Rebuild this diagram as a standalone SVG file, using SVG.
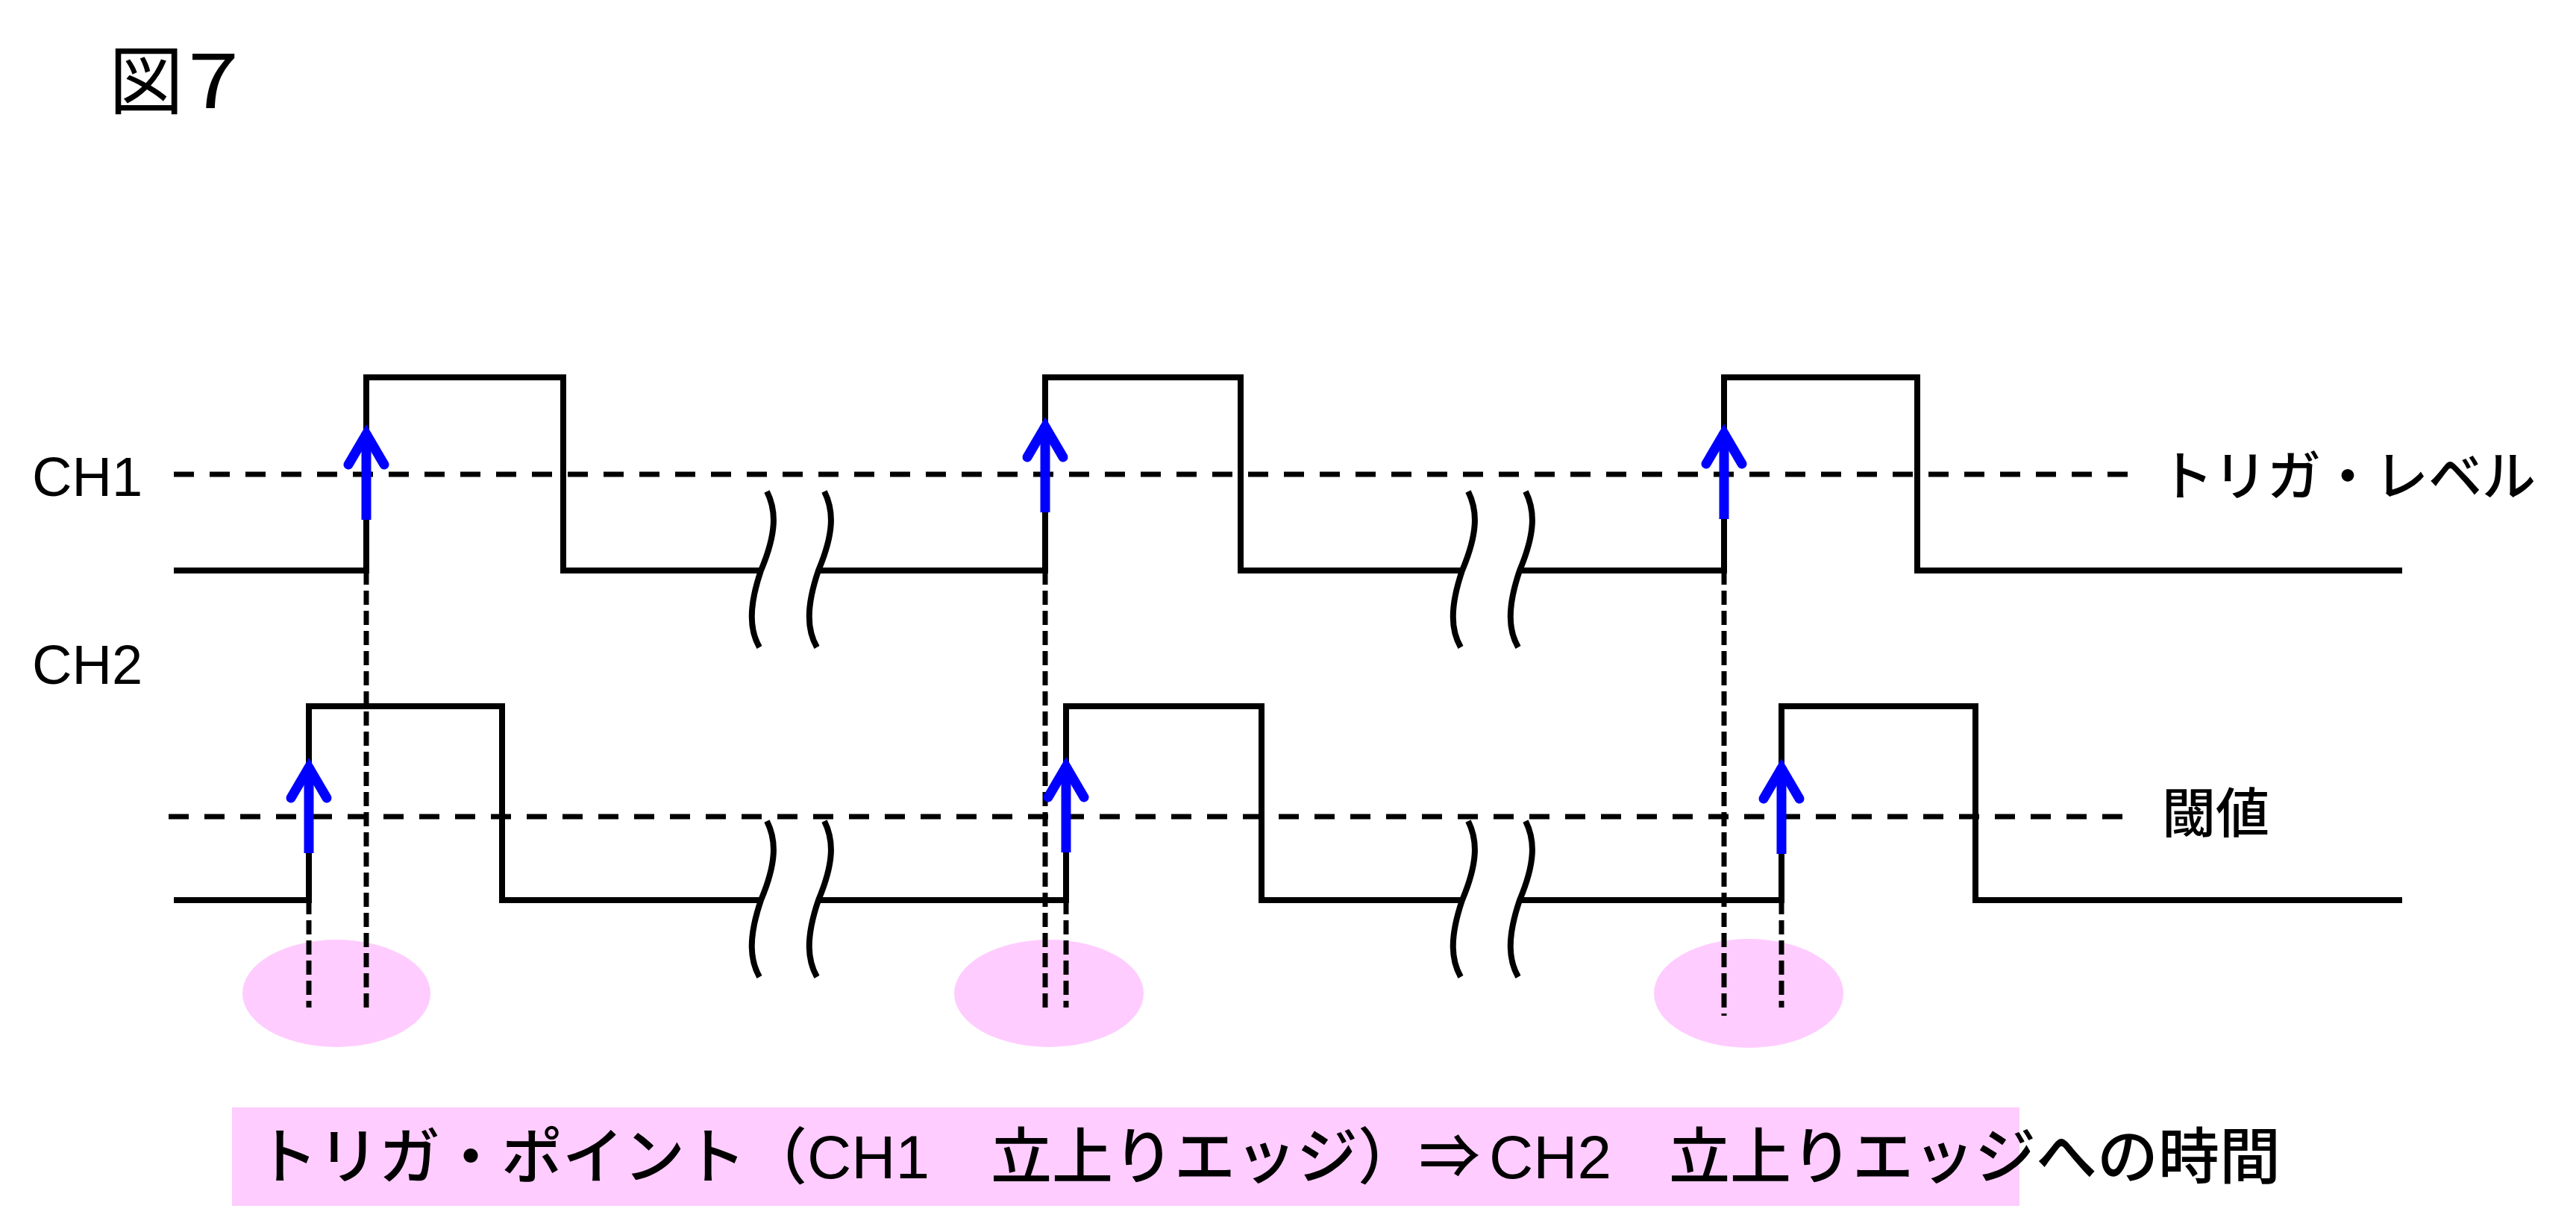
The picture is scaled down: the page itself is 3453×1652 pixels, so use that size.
<svg xmlns="http://www.w3.org/2000/svg" xmlns:xlink="http://www.w3.org/1999/xlink" width="3453" height="1652" viewBox="0 0 3453 1652">
  <style>
    .sig { fill: none; stroke: #000; stroke-width: 8; stroke-linejoin: miter; stroke-linecap: butt; }
    .hdash { fill: none; stroke: #000; stroke-width: 7; stroke-dasharray: 27 21; }
    .vdash { fill: none; stroke: #000; stroke-width: 7; stroke-dasharray: 19 8; }
    .brk { fill: none; stroke: #000; stroke-width: 8; }
    .shaft { fill: none; stroke: #0000FF; stroke-width: 13; stroke-linecap: butt; }
    .head { fill: none; stroke: #0000FF; stroke-width: 13; stroke-linecap: round; stroke-linejoin: miter; }
    .pink { fill: #FFCCFF; stroke: none; }
    .lat { font-family: "Liberation Sans", Arial, sans-serif; fill: #000; }
    .jp { font-family: "Noto Sans CJK JP", "Noto Sans CJK SC", sans-serif; fill: #000; }
    .med { font-weight: 500; }
  </style>
  <defs>
    <g id="arrow">
      <path class="shaft" d="M0,129 V12"/>
      <path class="head" d="M-24,55 L0,14 L24,55"/>
    </g>
    <path id="wave" class="brk" d="M0,0 C13,26 13,56 -8,106 C-25,156 -23,186 -10,209"/>
  </defs>
  <rect width="3453" height="1652" fill="#fff"/>

  <g id="title">
    <text class="jp" x="146" y="145" font-size="100">図</text>
    <text class="jp" x="252" y="145" font-size="103" textLength="68" lengthAdjust="spacingAndGlyphs">7</text>
  </g>

  <g id="highlights">
    <ellipse class="pink" cx="451" cy="1332" rx="126" ry="72"/>
    <ellipse class="pink" cx="1406" cy="1332" rx="127" ry="72"/>
    <ellipse class="pink" cx="2344" cy="1332" rx="127" ry="73"/>
  </g>

  <g id="connectors">
    <line class="vdash" x1="491" y1="765" x2="491" y2="1351"/>
    <line class="vdash" x1="414" y1="1207" x2="414" y2="1351"/>
    <line class="vdash" x1="1401" y1="765" x2="1401" y2="1351"/>
    <line class="vdash" x1="1429" y1="1207" x2="1429" y2="1351"/>
    <line class="vdash" x1="2311" y1="765" x2="2311" y2="1362"/>
    <line class="vdash" x1="2388" y1="1207" x2="2388" y2="1351"/>
    <line class="hdash" x1="233" y1="636" x2="2858" y2="636"/>
    <line class="hdash" x1="226" y1="1095" x2="2851" y2="1095"/>
  </g>

  <g id="ch1-signal">
    <path class="sig" d="M233,765 H491 V506 H755 V765 H1020"/>
    <path class="sig" d="M1097,765 H1401 V506 H1663 V765 H1960"/>
    <path class="sig" d="M2037,765 H2311 V506 H2570 V765 H3220"/>
  </g>

  <g id="ch2-signal">
    <path class="sig" d="M233,1207 H414 V947 H673 V1207 H1020"/>
    <path class="sig" d="M1097,1207 H1429 V947 H1691 V1207 H1960"/>
    <path class="sig" d="M2037,1207 H2388 V947 H2648 V1207 H3220"/>
  </g>

  <g id="breaks">
    <use xlink:href="#wave" href="#wave" x="1028" y="659"/>
    <use xlink:href="#wave" href="#wave" x="1105" y="659"/>
    <use xlink:href="#wave" href="#wave" x="1968" y="659"/>
    <use xlink:href="#wave" href="#wave" x="2045" y="659"/>
    <use xlink:href="#wave" href="#wave" x="1028" y="1101"/>
    <use xlink:href="#wave" href="#wave" x="1105" y="1101"/>
    <use xlink:href="#wave" href="#wave" x="1968" y="1101"/>
    <use xlink:href="#wave" href="#wave" x="2045" y="1101"/>
  </g>

  <g id="edge-arrows">
    <use xlink:href="#arrow" href="#arrow" x="491" y="568"/>
    <use xlink:href="#arrow" href="#arrow" x="1401" y="558"/>
    <use xlink:href="#arrow" href="#arrow" x="2311" y="567"/>
    <use xlink:href="#arrow" href="#arrow" x="414" y="1015"/>
    <use xlink:href="#arrow" href="#arrow" x="1429" y="1014"/>
    <use xlink:href="#arrow" href="#arrow" x="2388" y="1016"/>
  </g>

  <g id="label-ch1"><text class="lat" x="43" y="665" font-size="74">CH1</text></g>
  <g id="label-ch2"><text class="lat" x="43" y="917" font-size="74">CH2</text></g>
  <g id="label-trigger"><text class="jp med" x="2895" y="664" font-size="72">トリガ・レベル</text></g>
  <g id="label-threshold"><text class="jp med" x="2898" y="1116" font-size="72">閾値</text></g>

  <g id="caption">
    <rect class="pink" x="311" y="1485" width="2396" height="132"/>
    <text class="jp med" y="1580" font-size="82"><tspan x="344">トリガ・ポイント（</tspan><tspan class="lat" x="1082">CH1</tspan><tspan x="1328">立上りエッジ）⇒</tspan><tspan class="lat" x="1996">CH2</tspan><tspan x="2237">立上りエッジへの時間</tspan></text>
  </g>
</svg>
